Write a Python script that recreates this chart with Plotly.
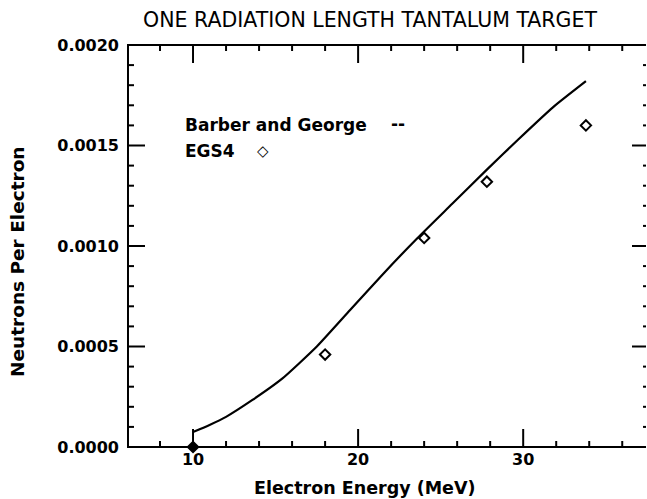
import plotly.graph_objects as go

# Barber and George curve
bg_energy = [10.0, 11.0, 12.0, 13.6, 15.4, 17.5, 19.5, 21.5, 23.6, 25.7, 27.8, 29.7, 31.8, 33.8]
bg_yield = [0.000075, 0.00011, 0.00015, 0.000234, 0.00034, 0.0005, 0.00068, 0.00086,
            0.00104, 0.00121, 0.00138, 0.00153, 0.00169, 0.00182]

# EGS4 points
egs_energy = [10.0, 18.0, 24.0, 27.8, 33.8]
egs_yield = [0.0, 0.00046, 0.00104, 0.00132, 0.0016]

title_text = "ONE RADIATION LENGTH TANTALUM TARGET"
x_title = "Electron Energy (MeV)"
y_title = "Neutrons Per Electron"
legend_names = ["Barber and George", "EGS4"]
legend_syms = ["--", "◇"]

x_major = [10, 20, 30]
x_minor = [8, 12, 14, 16, 18, 22, 24, 26, 28, 32, 34, 36]
y_major = [0.0, 0.0005, 0.0010, 0.0015, 0.0020]
y_minor = [0.0001, 0.0002, 0.0003, 0.0004, 0.0006, 0.0007, 0.0008, 0.0009,
           0.0011, 0.0012, 0.0013, 0.0014, 0.0016, 0.0017, 0.0018, 0.0019]

# frame edges (data units) and the slightly larger view range
XE = [6.06, 37.44]
YE = [0.0, 0.002]
XR = [6.0, 37.5]
YR = [-0.000005, 0.002005]

fig = go.Figure()

# frame (top, left, bottom)
fig.add_trace(go.Scatter(x=[XE[1], XE[0], XE[0], XE[1]], y=[YE[1], YE[1], YE[0], YE[0]],
                         mode="lines", cliponaxis=False,
                         line=dict(color="black", width=2), showlegend=False, hoverinfo="skip"))

fig.add_trace(go.Scatter(x=bg_energy, y=bg_yield, mode="lines",
                         line=dict(color="black", width=2.2, shape="spline", smoothing=0.5),
                         showlegend=False))
egs_symbols = ["diamond"] + ["diamond-open"] * (len(egs_energy) - 1)
fig.add_trace(go.Scatter(x=egs_energy, y=egs_yield, mode="markers",
                         marker=dict(symbol=egs_symbols, size=8, color="black",
                                     line=dict(width=2, color="black")),
                         cliponaxis=False, showlegend=False))

# tick marks as pixel-sized shapes anchored at the tick values
tick_line = dict(color="black", width=2)
def xtick(xv, yanchor, length):
    fig.add_shape(type="line", xref="x", yref="y", x0=xv, x1=xv,
                  ysizemode="pixel", yanchor=yanchor, y0=0, y1=length,
                  line=tick_line, layer="above")
def ytick(yv, xanchor, length):
    fig.add_shape(type="line", xref="x", yref="y", y0=yv, y1=yv,
                  xsizemode="pixel", xanchor=xanchor, x0=0, x1=length,
                  line=tick_line, layer="above")

for v in x_major:
    xtick(v, YE[0], 18)
    xtick(v, YE[1], -18)
for v in x_minor:
    xtick(v, YE[0], 6)
    xtick(v, YE[1], -6)
for v in y_major:
    ytick(v, XE[0], 17)
    ytick(v, XE[1], -14)
for v in y_minor:
    ytick(v, XE[0], 6)
    ytick(v, XE[1], -3)
fig.add_shape(type="line", xref="x", yref="y", x0=XE[0], x1=XE[1], y0=YE[1], y1=YE[1],
              line=tick_line, layer="above")

tickfont = dict(family="DejaVu Sans", size=16, color="black", weight="bold")

ML, MT, MB = 127, 44, 51
pw = 647 - ML
ph = 499 - MT - MB
def px(x):
    return (x - ML) / pw
def py(y):
    return 1 - (y - MT) / ph

fig.update_layout(
    template="none",
    width=647, height=499, autosize=False,
    margin=dict(l=ML, r=0, t=MT, b=MB),
    paper_bgcolor="white", plot_bgcolor="white",
    title=dict(text=title_text, x=370 / 647, xanchor="center", y=0.96, yanchor="middle",
               font=dict(family="DejaVu Sans", size=20.5, color="black")),
    xaxis=dict(range=XR, tickmode="array", tickvals=x_major,
               ticks="", showline=False,
               showgrid=False, zeroline=False, tickfont=tickfont, automargin=False),
    yaxis=dict(range=YR, tickmode="array", tickvals=y_major, tickformat=".4f",
               ticks="", showline=False,
               showgrid=False, zeroline=False, tickfont=tickfont, ticklabelstandoff=7,
               automargin=False),
)

titlefont = dict(family="DejaVu Sans", size=17.5, color="black", weight="bold")
fig.add_annotation(x=px(365), y=py(488), xref="paper", yref="paper", text=x_title,
                   showarrow=False, xanchor="center", yanchor="middle", font=titlefont)
fig.add_annotation(x=px(17), y=py(262), xref="paper", yref="paper", text=y_title,
                   showarrow=False, xanchor="center", yanchor="middle", textangle=-90,
                   font=dict(family="DejaVu Sans", size=18.5, color="black", weight="bold"))

legfont = dict(family="DejaVu Sans", size=17, color="black", weight="bold")
fig.add_annotation(x=px(183), y=py(125), xref="paper", yref="paper", text=legend_names[0],
                   showarrow=False, xanchor="left", yanchor="middle", font=legfont)
fig.add_annotation(x=px(398), y=py(124), xref="paper", yref="paper", text=legend_syms[0],
                   showarrow=False, xanchor="center", yanchor="middle", font=legfont)
fig.add_annotation(x=px(183), y=py(151), xref="paper", yref="paper", text=legend_names[1],
                   showarrow=False, xanchor="left", yanchor="middle", font=legfont)
fig.add_annotation(x=px(263), y=py(151), xref="paper", yref="paper", text=legend_syms[1],
                   showarrow=False, xanchor="center", yanchor="middle",
                   font=dict(family="DejaVu Sans", size=15, color="black", weight="bold"))

fig.write_html("out.html", config={"responsive": False, "displayModeBar": False},
               post_script="document.body.style.margin='0';document.body.style.overflow='hidden';")
